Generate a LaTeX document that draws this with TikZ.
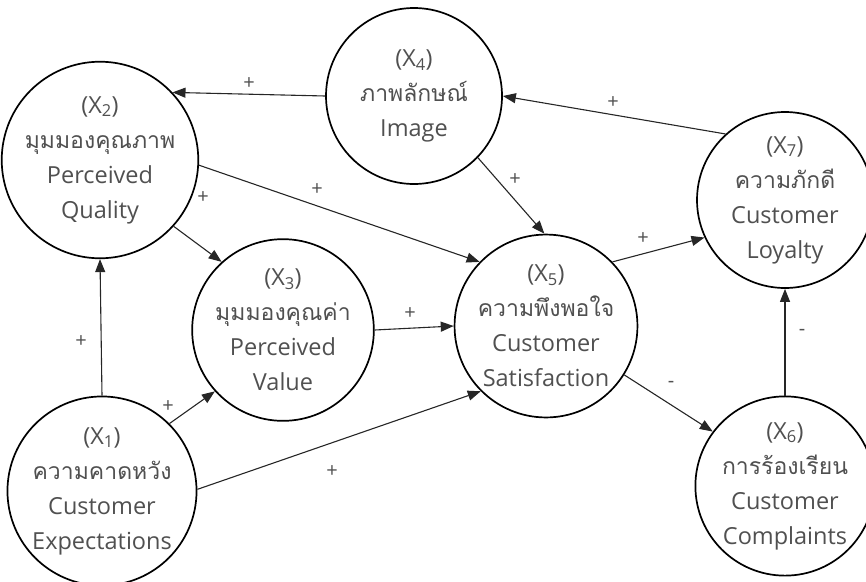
\documentclass[tikz,border=0pt]{standalone}
\usepackage{fontspec}
\newfontfamily\thaifont[Script=Thai]{Loma}
\newfontfamily\latfont{Open Sans}
\usetikzlibrary{arrows.meta}
\definecolor{txt}{HTML}{505050}
\newcommand{\thline}[1]{{\thaifont\fontsize{23}{35}\selectfont #1}}
\begin{document}
\begin{tikzpicture}[x=1pt,y=-1pt,
  var/.style={circle,draw=black,line width=1.7pt,minimum size=176pt,inner sep=0pt,
     align=center,text=txt,font=\latfont\fontsize{23.5}{35}\selectfont},
  link/.style={draw=black!85,line width=1.1pt,-{Triangle[length=13pt,width=10pt]}},
  sgn/.style={text=txt,font=\latfont\fontsize{20}{20}\selectfont,inner sep=0pt}]
\useasboundingbox (0,0) rectangle (866,581);
\node[var] (X1) at (102,491) {(X\textsubscript{1})\\\thline{ความคาดหวัง}\\Customer\\Expectations};
\node[var] (X2) at (100,160) {(X\textsubscript{2})\\\thline{มุมมองคุณภาพ}\\Perceived\\Quality};
\node[var] (X3) at (283,330) {(X\textsubscript{3})\\\thline{มุมมองคุณค่า}\\Perceived\\Value};
\node[var] (X4) at (414,96) {(X\textsubscript{4})\\\thline{ภาพลักษณ์}\\Image};
\node[var] (X5) at (546,326) {(X\textsubscript{5})\\\thline{ความพึงพอใจ}\\Customer\\Satisfaction};
\node[var] (X6) at (785,486) {(X\textsubscript{6})\\\thline{การร้องเรียน}\\Customer\\Complaints};
\node[var] (X7) at (785,200) {(X\textsubscript{7})\\\thline{ความภักดี}\\Customer\\Loyalty};

\draw[link] (X4.180) -- (X2.43);
\draw[link] (X7.132) -- (X4.0);
\draw[link] (X2.-3) -- (X5.136);
\draw[link] (X2.-42) -- (X3.132);
\draw[link] (X4.-44) -- (X5.91);
\draw[link] (X1.north) -- (X2.south);
\draw[link] (X1.45) -- (X3.222);
\draw[link] (X1.1) -- (X5.225);
\draw[link] (X3.0) -- (X5.180);
\draw[link] (X5.44) -- (X7.205);
\draw[link] (X5.-32) -- (X6.143);
\draw[link] (X6.north) -- (X7.south);

\node[sgn] (s1) at (249,84) {+};
\node[sgn] (s2) at (317,190) {+};
\node[sgn] (s3) at (515,180) {+};
\node[sgn] (s4) at (613,103) {+};
\node[sgn] (s5) at (643,239) {+};
\node[sgn] (s6) at (81,342) {+};
\node[sgn] (s7) at (168,407) {+};
\node[sgn] (s8) at (332,472) {+};
\node[sgn] (s9) at (410,314) {+};
\node[sgn] (s10) at (203,198) {+};
\node[sgn] (s11) at (671,384) {-};
\node[sgn] (s12) at (802,332) {-};
\end{tikzpicture}
\end{document}
